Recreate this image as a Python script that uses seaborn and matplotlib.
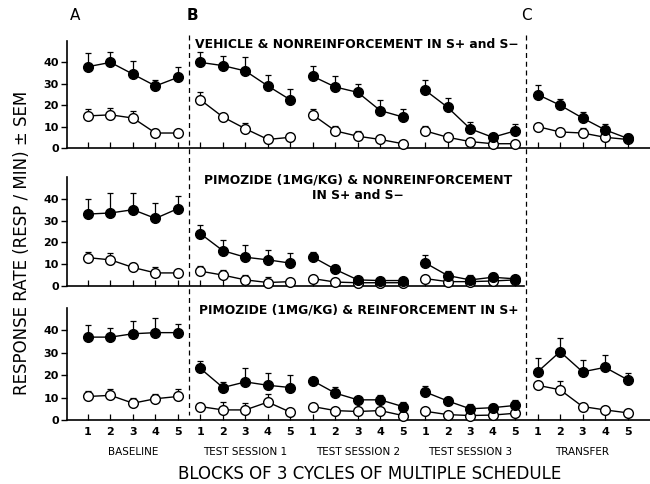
import numpy as np
import pandas as pd
import matplotlib
matplotlib.use("Agg")
import matplotlib.pyplot as plt
import matplotlib.transforms as mtransforms
from matplotlib.lines import Line2D
import seaborn as sns

# ---------------- data ----------------
sessions = ["BASELINE", "TEST SESSION 1", "TEST SESSION 2", "TEST SESSION 3", "TRANSFER"]
blocks = [1, 2, 3, 4, 5]
yticks = [0, 10, 20, 30, 40]
panel_titles = [
    "VEHICLE & NONREINFORCEMENT IN S+ and S\u2212",
    "PIMOZIDE (1MG/KG) & NONREINFORCEMENT\nIN S+ and S\u2212",
    "PIMOZIDE (1MG/KG) & REINFORCEMENT IN S+",
]
x_label = "BLOCKS OF 3 CYCLES OF MULTIPLE SCHEDULE"
y_label = "RESPONSE RATE (RESP / MIN) \u00b1 SEM"

nan = np.nan
# Top: vehicle & nonreinforcement
veh_splus = [38, 40, 34.5, 29, 33,  40, 38.5, 36, 29, 22.5,  33.5, 28.5, 26, 17.5, 14.5,
             27, 19, 9, 5, 8,  25, 20, 14, 8.5, 4.5]
veh_splus_sem = [6.5, 5, 6, 3, 5,  5, 4.5, 6.5, 5, 5,  5, 5, 4, 5, 3.5,
                 5, 4.5, 3, 1.5, 3,  4.5, 3, 3, 2.5, 2]
veh_sminus = [15, 15.5, 14, 7, 7,  22.5, 14.5, 9, 4, 5,  15.5, 8, 5.5, 4, 2,
              8, 5, 3, 2, 2,  10, 7.5, 7, 5, 4]
veh_sminus_sem = [3, 3, 3.5, 2, 0,  3.5, 0, 2.5, 0, 0,  2.5, 2.5, 2.5, 0, 0,
                  2.5, 1.5, 0, 0, 0,  0, 0, 2.5, 0, 0]

# Middle: pimozide & nonreinforcement
pim_nr_splus = [33, 33.5, 35, 31, 35.5,  24, 16.2, 13.2, 12, 10.5,  13.3, 7.6, 2.8, 2.5, 2.5,
                10.6, 4.8, 2.8, 4, 3.3,  nan, nan, nan, nan, nan]
pim_nr_splus_sem = [7, 9, 7.5, 7, 6,  4, 5, 5.5, 4.5, 4.5,  2.5, 2.2, 0.5, 0.5, 0,
                    3.4, 2, 2.2, 1.8, 0,  nan, nan, nan, nan, nan]
pim_nr_sminus = [13, 12, 8.5, 6, 6,  6.8, 5, 2.8, 1.6, 2,  3.4, 1.8, 1.5, 1.5, 1.5,
                 3.4, 2, 2, 2.3, 2.8,  nan, nan, nan, nan, nan]
pim_nr_sminus_sem = [2.5, 3, 2, 2.5, 0,  2.5, 2.2, 2.2, 2.4, 0,  0, 0, 0, 0, 0,
                     0, 0, 0, 0, 0,  nan, nan, nan, nan, nan]

# Bottom: pimozide & reinforcement in S+
pim_r_splus = [37, 37, 38.5, 39, 39,  23, 14.5, 17, 15.5, 14.5,  17.5, 12, 9, 9, 6,
               12.5, 8.5, 5, 5.5, 6.5,  21.5, 30.5, 21.5, 23.5, 18]
pim_r_splus_sem = [5.5, 4, 5.5, 6.5, 4,  3.5, 2.5, 6, 5.5, 5.5,  1, 2.8, 0, 2, 2.2,
                   2.7, 1.8, 2.3, 1.8, 2.5,  6.2, 6.3, 5.5, 5.5, 3.2]
pim_r_sminus = [10.5, 11, 7.5, 9.5, 10.5,  6, 4.5, 4.5, 8, 3.5,  6, 4.2, 3.8, 4.2, 2,
                3.9, 2.4, 2, 2.2, 3,  15.5, 13.5, 6, 4.5, 3.2]
pim_r_sminus_sem = [2.5, 3, 2.5, 2, 3.5,  0, 3.5, 3, 3.5, 0,  0, 0, 0, 0, 0,
                    0, 0, 0, 0, 0,  0, 4, 0, 0, 0]

rows = [
    (veh_splus, veh_splus_sem, veh_sminus, veh_sminus_sem),
    (pim_nr_splus, pim_nr_splus_sem, pim_nr_sminus, pim_nr_sminus_sem),
    (pim_r_splus, pim_r_splus_sem, pim_r_sminus, pim_r_sminus_sem),
]

# ---------------- figure ----------------
sns.set_style("ticks")
plt.rcParams["font.family"] = ["DejaVu Sans"]
plt.rcParams.update({
    "text.color": "black", "axes.labelcolor": "black", "axes.edgecolor": "black",
    "xtick.color": "black", "ytick.color": "black",
})

W, H = 650, 484
fig = plt.figure(figsize=(6.5, 4.84), dpi=100)

def px_axes(left, top, right, bottom):
    return fig.add_axes([left / W, 1 - bottom / H, (right - left) / W, (bottom - top) / H])

ax_boxes = [(67, 41, 650, 148), (67, 177, 650, 286), (67, 308, 650, 420)]
axes = [px_axes(*b) for b in ax_boxes]

n_pos = len(sessions) * len(blocks)
positions = np.arange(1, n_pos + 1)
sess_col = np.repeat(sessions, len(blocks))

for r, (ax, (sp, sp_sem, sm, sm_sem)) in enumerate(zip(axes, rows)):
    df = pd.DataFrame({
        "pos": np.concatenate([positions, positions]),
        "rate": np.concatenate([sm, sp]),
        "sem": np.concatenate([sm_sem, sp_sem]),
        "session": np.concatenate([sess_col, sess_col]),
        "stim": ["S-"] * n_pos + ["S+"] * n_pos,
    }).dropna()

    for stim, face in [("S-", "white"), ("S+", "black")]:
        d = df[df["stim"] == stim]
        e = d[d["sem"] > 0]
        ax.errorbar(e["pos"], e["rate"], yerr=[np.zeros(len(e)), e["sem"]],
                    fmt="none", ecolor="black", elinewidth=0.9, capsize=2.3,
                    capthick=0.9, zorder=2, clip_on=False)
        sns.lineplot(data=d, x="pos", y="rate", units="session", estimator=None,
                     color="black", linewidth=1.0, marker="o", markersize=7,
                     markerfacecolor=face, markeredgecolor="black",
                     markeredgewidth=1.0, ax=ax, legend=False, sort=True,
                     zorder=3 if stim == "S-" else 4, clip_on=False)

    ax.set_xlim(0.065, 26.0)
    ax.set_ylim(0, 50)
    ax.set_yticks(yticks)
    ax.set_yticklabels([str(t) for t in yticks], fontsize=8, fontweight="bold")
    sns.despine(ax=ax)
    for s in ["left", "bottom"]:
        ax.spines[s].set_linewidth(1.2)
    ax.tick_params(axis="y", direction="out", length=4, width=1.0, pad=2)
    valid = df["pos"].unique()
    ax.set_xticks(sorted(valid))
    ax.tick_params(axis="x", direction="in", length=4, width=0.9)
    ax.set_xlabel("")
    ax.set_ylabel("")
    if r < 2:
        ax.set_xticklabels([])
    else:
        ax.set_xticklabels([str(b) for b in blocks] * len(sessions),
                           fontsize=8, fontweight="bold")
        ax.tick_params(axis="x", pad=5)
    if r == 1:
        ax.spines["bottom"].set_bounds(0.065, 20.4)

# panel titles
trans = [mtransforms.blended_transform_factory(a.transData, a.transAxes) for a in axes]
axes[0].text(5.75, 0.97, panel_titles[0], transform=trans[0], ha="left", va="center",
             fontsize=8.9, fontweight="bold")
axes[1].text(13.0, 1.03, panel_titles[1], transform=trans[1], ha="center", va="top",
             fontsize=8.9, fontweight="bold", linespacing=1.25)
axes[2].text(13.05, 0.98, panel_titles[2], transform=trans[2], ha="center", va="center",
             fontsize=8.9, fontweight="bold")

# group labels under bottom axis
for i, name in enumerate(sessions):
    axes[2].text(3 + 5 * i, -0.29, name, transform=trans[2], ha="center", va="center",
                 fontsize=7.5)

# dashed separators spanning the panels
inv = fig.transFigure.inverted()
for xd in [5.5, 20.5]:
    xf = inv.transform(axes[2].transData.transform((xd, 0)))[0]
    fig.add_artist(Line2D([xf, xf], [1 - 35 / H, 1 - 415 / H], transform=fig.transFigure,
                          color="black", linestyle=(0, (4, 3)), linewidth=0.9))

# panel letters
fig.text(75 / W, 1 - 16 / H, "A", fontsize=11, ha="center", va="center")
fig.text(192 / W, 1 - 16 / H, "B", fontsize=11, ha="center", va="center", fontweight="bold")
fig.text(526 / W, 1 - 16 / H, "C", fontsize=11, ha="center", va="center")

fig.text(370 / W, 1 - 474 / H, x_label, fontsize=12, ha="center", va="center")
fig.text(22 / W, 1 - 243 / H, y_label, fontsize=12, ha="center", va="center",
         rotation=90)

fig.savefig("out.png", dpi=100)
